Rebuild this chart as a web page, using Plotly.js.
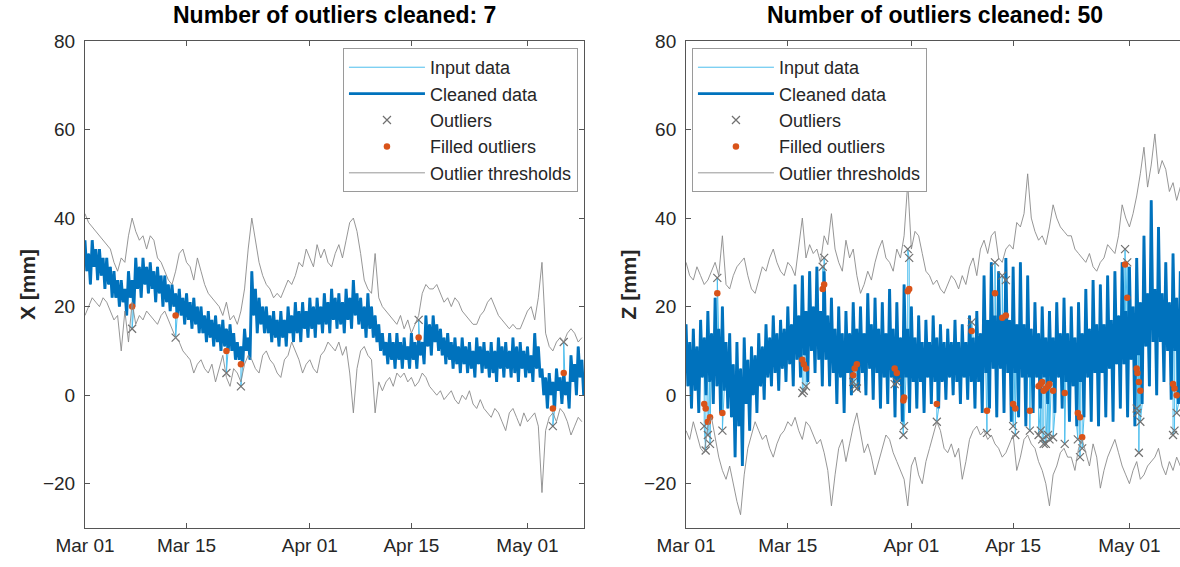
<!DOCTYPE html>
<html><head><meta charset="utf-8">
<script src="https://cdn.plot.ly/plotly-3.0.1.min.js"></script>
<style>html,body{margin:0;padding:0;background:#fff}#chart{width:1180px;height:567px}</style>
</head><body><div id="chart"></div>
<script>
// ---- axis / tick data ----
const startYear = 2021;
const cleanedStepHours = 6;     // cleaned / input samples
const thresholdStepHours = 12;  // threshold samples
const tickDates = ['2021-03-01','2021-03-15','2021-04-01','2021-04-15','2021-05-01'];
const tickLabels = ['Mar 01','Mar 15','Apr 01','Apr 15','May 01'];
const yTicks = [-20,0,20,40,60,80];

// ---- left panel: X [mm] (cleaned every 6 h, thresholds every 12 h, from Mar 01) ----
const xCleaned = [
  35,28,32,25, 35,29,33,26, 33,27,31,24, 31,25,29,22, 28,22,26,20,
  26,21,24,18, 28,22,26,20, 31,24,29,22, 31,25,29,23, 30,24,28,21,
  29,23,27,20, 27,21,25,19, 25,20,23,18, 24,18,22,16, 23,17,21,15,
  22,16,20,14, 20,14,18,12, 19,13,17,11, 18,12,16,10, 17,11,15,10,
  16,10,14,8, 12,8,11,7, 15,10,13,8, 28,18,24,14, 22,16,20,14,
  20,14,18,12, 19,13,17,11, 19,13,17,11, 20,14,18,12, 21,14,19,12,
  21,15,19,13, 22,15,20,13, 22,16,20,14, 23,16,21,14, 24,17,22,15,
  23,16,21,14, 24,17,22,15, 26,18,23,16, 22,15,20,13, 23,15,20,13,
  18,12,16,10, 14,9,12,7, 14,8,12,6, 14,8,12,6, 13,8,11,6,
  14,8,12,6, 13,9,12,7, 18,11,16,9, 18,12,16,10, 15,9,13,7,
  14,8,12,6, 13,7,11,5, 13,7,11,5, 12,6,10,4, 13,7,11,5,
  12,6,10,4, 12,5,10,3, 13,6,11,4, 12,6,10,4, 13,5,11,3,
  12,6,10,4, 11,5,9,3, 14,6,11,4, 6,0,4,-3, 5,0,3,-3,
  6,1,4,-2, 5,0,3,-3, 9,3,7,0, 11,4,8,0];
const xUpper = [41,39, 38,37, 36,35, 34,33, 30,28, 31,30, 36,40, 37,35, 36,33, 36,35,
  31,30, 28,26, 25,28, 32,33, 30,29, 26,31, 28,25, 23,22, 21,20, 18,21,
  17,18, 16,19, 24,33, 40,35, 30,27, 25,24, 22,23, 22,24, 26,25, 27,30,
  29,33, 31,29, 34,31, 33,30, 29,32, 34,31, 35,39, 40,37, 32,26, 24,23,
  32,22, 20,19, 18,17, 16,18, 15,17, 14,16, 18,23, 25,24, 24,25, 23,21,
  22,20, 22,21, 19,18, 17,16, 16,18, 19,21, 22,20, 18,17, 16,15, 16,15,
  15,17, 19,20, 17,22, 30,14, 11,10, 12,13, 12,14, 15,14, 12,13];
const xLower = [18,20, 22,21, 20,22, 21,19, 17,18, 10,19, 12,21, 16,18, 17,19, 18,17,
  16,18, 19,17, 15,13, 12,10, 9,8, 5,7, 8,6, 5,7, 3,6, 9,4,
  2,6, 5,3, 7,9, 8,6, 5,9, 10,8, 7,5, 4,8, 9,12, 10,8,
  5,7, 8,6, 5,9, 10,12, 11,10, 12,9, 11,5, -4,6, 10,11, 9,8,
  -4,3, 1,3, 4,2, 5,4, 5,3, 4,2, 3,5, 4,2, 1,0, 1,-1,
  0,1, -1,-2, 0,-1, 1,-2, -3,-1, -3,-4, -5,-3, -4,-6, -8,-4, -3,-5,
  -7,-4, -6,-5, -4,-7, -22,-8, -5,-4, -6,-3, -4,-6, -9,-7, -5,-6];
const xOutlierDay = [6.5, 12.5, 19.5, 21.5, 46.0, 64.5, 66.0];
const xOutlierInput = [15, 13, 5, 2, 17, -7, 12];
const xOutlierFilled = [20, 18, 10, 7, 13, -3, 5];

// ---- right panel: Z [mm] ----
const zCleaned = [
  16,2,12,-3, 15,1,11,-4, 17,4,13,0, 19,3,14,-2, 22,2,15,-4,
  20,1,12,-3, 14,-5,7,-14, 12,-7,6,-16, 13,-2,8,-8, 11,0,9,-4,
  14,2,11,-1, 16,4,13,2, 18,5,14,1, 17,6,15,3, 20,7,16,2,
  25,8,18,4, 27,9,19,3, 28,10,20,5, 29,8,19,2, 28,8,18,2,
  22,5,15,-2, 20,4,14,-4, 19,5,14,0, 21,6,15,1, 20,5,14,0,
  23,6,16,-1, 22,5,15,-3, 21,4,14,-2, 24,4,15,-5, 21,3,13,-6,
  25,4,15,-4, 20,3,13,-3, 18,3,12,-4, 17,4,12,-2, 18,3,13,-3,
  16,3,12,-1, 15,4,12,0, 17,3,12,-2, 16,4,12,-1, 18,3,13,-3,
  19,3,14,-4, 27,5,17,-3, 30,6,18,-5, 28,6,18,-4, 31,5,17,-6,
  29,5,16,-5, 30,4,16,-7, 27,4,15,-4, 21,4,14,-3, 20,4,13,-2,
  19,3,13,-4, 21,4,14,-3, 22,3,14,-6, 20,2,13,-7, 21,3,14,-5,
  24,4,15,-6, 26,5,16,-7, 25,5,16,-5, 27,6,17,-6, 28,7,18,-3,
  30,7,19,-5, 29,8,20,-7, 31,9,21,-2, 36,11,23,2, 44,12,24,0,
  38,12,23,3, 30,10,21,-1, 32,10,22,-2, 28,9,20,0];
const zUpper = [30,27, 26,29, 27,25, 26,28, 30,27, 36,25, 24,27, 29,30, 31,27, 24,23,
  26,29, 28,31, 33,30, 28,27, 30,29, 27,33, 40,31, 34,32, 33,30, 36,34,
  41,33, 30,28, 35,31, 33,27, 23,25, 28,26, 30,33, 35,31, 30,28, 33,31,
  36,48, 33,37, 36,32, 28,27, 25,26, 24,23, 25,27, 26,24, 27,25, 29,31,
  27,33, 35,32, 36,37, 31,30, 33,34, 33,39, 38,41, 50,40, 37,35, 36,34,
  38,43, 40,38, 37,36, 36,33, 32,31, 30,32, 29,28, 30,31, 34,33, 32,36,
  43,40, 38,41, 45,50, 56,47, 52,59, 50,53, 51,46, 48,44, 47,45];
const zLower = [-8,-10, -6,-9, -12,-13, -7,-5, -10,-14, -17,-19, -16,-20, -24,-27, -18,-12, -9,-6,
  -8,-10, -9,-12, -14,-11, -9,-8, -6,-7, -5,-8, -10,-6, -7,-9, -11,-10, -13,-17,
  -25,-18, -12,-10, -15,-11, -7,-4, -9,-13, -11,-14, -18,-15, -12,-9, -10,-13, -15,-17,
  -19,-25, -16,-14, -18,-20, -15,-12, -9,-6, -8,-12, -13,-11, -14,-12, -19,-15, -10,-8,
  -7,-9, -8,-10, -9,-11, -12,-14, -13,-11, -9,-17, -14,-10, -9,-11, -12,-15, -17,-20,
  -25,-18, -16,-13, -12,-14, -14,-17, -12,-10, -13,-16, -11,-14, -21,-17, -14,-12, -10,-13,
  -16,-18, -20,-17, -15,-19, -18,-16, -15,-14, -12,-16, -18,-15, -17,-14, -16,-13];
const zOutlierDay = [2.5,2.7,3.0,3.3,4.3,5.0,16.0,16.2,16.5,18.8,19.0,23.0,23.2,23.5,28.7,29.0,
  29.9,30.0,30.5,30.7,34.5,39.3,41.4,42.5,43.5,44.0,45.0,45.3,47.3,48.5,48.8,49.0,49.2,49.5,
  49.8,50.0,50.5,52.1,53.9,54.2,54.5,60.4,60.7,62.0,62.1,62.3,62.5,67.0,67.2,67.5];
const zOutlierInput = [-7,-12.5,-9,-11,26.5,-8,0.5,1,2,29,31,3,2,1.5,2.5,3,
  -9,-7,33,31,-6,16.5,-8.5,30,27,26,-7,-9,-8,-9,-8,-10,-11,-11,
  -9,-10,-9.5,-11,-10,-14,-12,33,30,-3,-4,-13,-6,-9,-8,-4];
const zOutlierFilled = [-2,-3,-6,-5,23,-4,8,7,6,24,25,4.5,6,7,6,5,
  -1.2,-0.5,23.5,24,-2,14.5,-3.5,23,17.5,18,-2,-3,-3.5,2,2.5,3,1,1.5,
  2,2.5,1,0.5,-4,-5,-9.5,29.5,22,6,5,3,1,2.5,1.5,0];

// ---- helpers ----
const base = Date.UTC(startYear, 2, 1);
function timeAt(hours){
  return new Date(base + hours*3600000).toISOString().slice(0,19).replace('T',' ');
}
function gridTimes(arr, step){ return arr.map((_,i)=>timeAt(i*step)); }
function mergeInput(vals, step, oDays, oVals){
  const pts = vals.map((v,i)=>({h:i*step, v:v}));
  oDays.forEach((d,k)=>pts.push({h:d*24+0.01, v:oVals[k]}));
  pts.sort((a,b)=>a.h-b.h);
  return {x:pts.map(p=>timeAt(p.h)), y:pts.map(p=>p.v)};
}

const FONT = 'Liberation Sans, Arial, Helvetica, sans-serif';
const TXT = '#262626';

function panelTraces(cleaned, upper, lower, oDays, oIn, oFill, xa, ya, lg){
  const inp = mergeInput(cleaned, cleanedStepHours, oDays, oIn);
  const tc = gridTimes(cleaned, cleanedStepHours);
  const tt = gridTimes(upper, thresholdStepHours);
  const oT = oDays.map(d=>timeAt(d*24));
  return [
    {x:inp.x, y:inp.y, mode:'lines', name:'Input data', line:{color:'#4DBEEE', width:1},
     xaxis:xa, yaxis:ya, legend:lg},
    {x:tc, y:cleaned, mode:'lines', name:'Cleaned data', line:{color:'#0072BD', width:2.9},
     xaxis:xa, yaxis:ya, legend:lg},
    {x:oT, y:oIn, mode:'markers', name:'Outliers',
     marker:{symbol:'x-thin-open', size:8, color:'#707070', line:{width:1.2, color:'#707070'}},
     xaxis:xa, yaxis:ya, legend:lg},
    {x:oT, y:oFill, mode:'markers', name:'Filled outliers',
     marker:{symbol:'circle', size:6.5, color:'#D95319'},
     xaxis:xa, yaxis:ya, legend:lg},
    {x:tt, y:upper, mode:'lines', name:'Outlier thresholds', legendgroup:'thr'+lg,
     line:{color:'#8a8a8a', width:0.9}, xaxis:xa, yaxis:ya, legend:lg},
    {x:tt, y:lower, mode:'lines', name:'Outlier thresholds', legendgroup:'thr'+lg, showlegend:false,
     line:{color:'#8a8a8a', width:0.9}, xaxis:xa, yaxis:ya, legend:lg}
  ];
}

const data = [].concat(
  panelTraces(xCleaned, xUpper, xLower, xOutlierDay, xOutlierInput, xOutlierFilled, 'x', 'y', 'legend'),
  panelTraces(zCleaned, zUpper, zLower, zOutlierDay, zOutlierInput, zOutlierFilled, 'x2', 'y2', 'legend2')
);

function xAxis(domain, endDate, anchor){
  return {domain:domain, anchor:anchor, type:'date', range:['2021-03-01 00:00', endDate],
    tickmode:'array', tickvals:tickDates, ticktext:tickLabels,
    ticks:'inside', ticklen:5, tickcolor:'#555', tickwidth:1,
    showline:true, linecolor:'#555', linewidth:1, mirror:'ticks',
    showgrid:false, zeroline:false,
    tickfont:{family:FONT, size:19, color:TXT}};
}
function yAxis(domain, anchor, title, mirror){
  return {domain:domain, anchor:anchor, range:[-30,80], tickmode:'array', tickvals:yTicks,
    ticks:'inside', ticklen:5, tickcolor:'#555', tickwidth:1,
    showline:true, linecolor:'#555', linewidth:1, mirror:mirror,
    showgrid:false, zeroline:false, ticklabelstandoff:5,
    tickfont:{family:FONT, size:19, color:TXT},
    title:{text:'<b>'+title+'</b>', font:{family:FONT, size:21, color:TXT}, standoff:1}};
}
const legendBase = {bgcolor:'#ffffff', bordercolor:'#9a9a9a', borderwidth:1,
  font:{family:FONT, size:18, color:TXT}, itemwidth:76, tracegroupgap:0, yanchor:'top', y:0.9153};

const layout = {
  width:1180, height:567, margin:{l:0, r:0, t:0, b:0},
  paper_bgcolor:'#ffffff', plot_bgcolor:'#ffffff',
  xaxis: xAxis([0.072, 0.4949], '2021-05-08 19:00', 'y'),
  yaxis: yAxis([0.0688, 0.9277], 'x', 'X [mm]', 'ticks'),
  xaxis2: xAxis([0.5814, 1], '2021-05-07 23:00', 'y2'),
  yaxis2: yAxis([0.0688, 0.9277], 'x2', 'Z [mm]', false),
  legend: Object.assign({}, legendBase, {x:0.4898, xanchor:'right'}),
  legend2: Object.assign({}, legendBase, {x:0.5864, xanchor:'left'}),
  showlegend:true,
  annotations:[
    {text:'<b>Number of outliers cleaned: 7</b>', xref:'paper', yref:'paper', x:0.2834, y:0.974,
     xanchor:'center', yanchor:'middle', showarrow:false, font:{family:FONT, size:23, color:'#000'}},
    {text:'<b>Number of outliers cleaned: 50</b>', xref:'paper', yref:'paper', x:0.7924, y:0.974,
     xanchor:'center', yanchor:'middle', showarrow:false, font:{family:FONT, size:23, color:'#000'}}
  ]
};

Plotly.newPlot('chart', data, layout, {staticPlot:true, displayModeBar:false});
</script></body></html>
